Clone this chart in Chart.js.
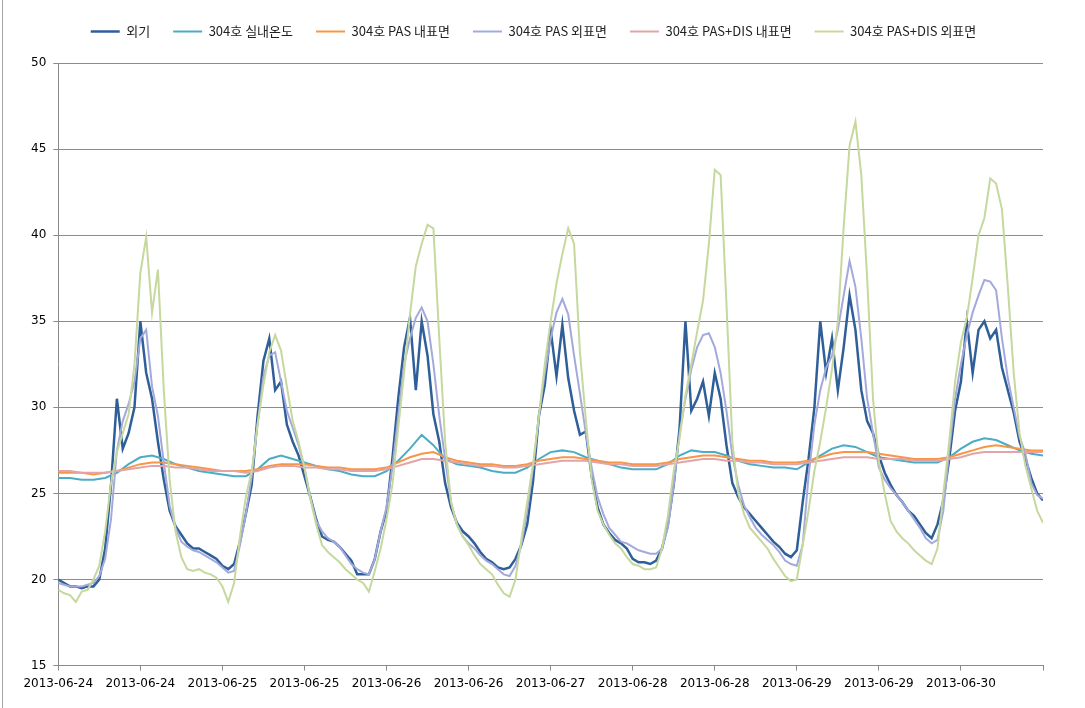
<!DOCTYPE html>
<html lang="ko">
<head>
<meta charset="UTF-8">
<title>304호 표면온도</title>
<script src="https://cdn.jsdelivr.net/npm/chart.js"></script>
<style>
    html, body { margin: 0; padding: 0; background: #fff; }
    .wrap { position: relative; width: 1085px; height: 708px; }
    .edge { position: absolute; left: 2px; top: 0; width: 1px; height: 708px; background: #a6a6a6; }
</style>
</head>
<body>
<div class="wrap">
    <canvas id="chart" width="1085" height="708"></canvas>
    <div class="edge"></div>
</div>
<script>
// x축 눈금: 14시간 간격
const dateLabels = ['2013-06-24', '2013-06-24', '2013-06-25', '2013-06-25', '2013-06-26', '2013-06-26',
    '2013-06-27', '2013-06-28', '2013-06-28', '2013-06-29', '2013-06-29', '2013-06-30', ''];
const seriesNames = ['외기', '304호 실내온도', '304호 PAS 내표면', '304호 PAS 외표면', '304호 PAS+DIS 내표면', '304호 PAS+DIS 외표면'];
const seriesColors = ['#2f5f98', '#4bacc6', '#f79646', '#a3aadb', '#e2a4a6', '#c6d89e'];

// 1시간 간격 (0h ~ 168h)
const outdoor = [
    20.0, 19.8, 19.6, 19.6, 19.5, 19.6, 19.6, 20.0, 21.8, 25.5,
    30.5, 27.6, 28.5, 30.0, 35.0, 32.0, 30.5, 28.0, 25.8, 24.0,
    23.1, 22.6, 22.1, 21.8, 21.8, 21.6, 21.4, 21.2, 20.8, 20.6,
    20.9, 22.2, 23.8, 25.5, 29.5, 32.7, 34.0, 31.0, 31.5, 29.0,
    28.0, 27.2, 26.0, 24.8, 23.5, 22.5, 22.3, 22.2, 21.9, 21.5,
    21.1, 20.3, 20.3, 20.3, 21.2, 22.8, 24.0, 27.0, 30.5, 33.5,
    35.2, 31.0, 35.0, 33.0, 29.6, 28.0, 25.6, 24.2, 23.3, 22.8,
    22.5, 22.1, 21.6, 21.2, 21.0, 20.7, 20.6, 20.7, 21.2, 22.0,
    23.2, 25.7, 29.5, 31.3, 34.5, 31.8, 34.8, 31.7, 29.8, 28.4,
    28.6, 26.0, 24.2, 23.2, 22.7, 22.3, 22.1, 21.8, 21.2, 21.0,
    21.0, 20.9, 21.1, 21.8, 23.2, 25.5, 28.8, 35.0, 29.8, 30.5,
    31.5, 29.5, 32.0, 30.5, 27.8, 25.6, 24.8, 24.2, 23.8, 23.4,
    23.0, 22.6, 22.2, 21.9, 21.5, 21.3, 21.7, 24.5, 27.0, 30.0,
    35.0, 32.0, 34.0, 31.0, 33.5, 36.5, 34.5, 31.0, 29.2, 28.5,
    27.2, 26.2, 25.5, 24.9, 24.5, 24.0, 23.7, 23.2, 22.7, 22.4,
    23.2, 24.6, 27.0, 29.8, 31.5, 35.0, 32.0, 34.5, 35.0, 34.0,
    34.5, 32.3, 31.0, 29.7, 28.0, 27.0, 25.9, 25.0, 24.6
];
const pasOuter = [
    19.8, 19.7, 19.6, 19.6, 19.6, 19.7, 19.8, 20.2, 21.2, 23.5,
    27.5, 29.2, 30.2, 31.5, 34.0, 34.5, 31.2, 29.5, 26.8, 24.3,
    23.0, 22.2, 21.9, 21.7, 21.6, 21.4, 21.2, 21.0, 20.7, 20.4,
    20.5, 22.0, 23.8, 26.0, 29.0, 31.8, 33.0, 33.2, 31.5, 29.8,
    28.8, 27.8, 26.5, 24.8, 23.4, 22.8, 22.4, 22.2, 21.9, 21.4,
    20.9, 20.6, 20.4, 20.3, 21.2, 22.8, 24.2, 26.5, 29.5, 32.5,
    34.0, 35.2, 35.8, 35.0, 32.5, 29.5, 27.0, 24.5, 23.2, 22.5,
    22.1, 21.8, 21.4, 21.1, 20.9, 20.6, 20.3, 20.2, 20.8, 22.0,
    24.0, 26.5, 29.5, 32.0, 34.0, 35.5, 36.3, 35.4, 33.0, 30.8,
    28.5, 26.5, 24.8, 23.8, 23.0, 22.6, 22.2, 22.1, 21.9, 21.7,
    21.6, 21.5, 21.5, 21.8, 23.0, 25.5, 28.5, 30.5, 32.2, 33.5,
    34.2, 34.3, 33.5, 32.0, 29.8, 27.2, 25.5, 24.3, 23.6, 23.0,
    22.6, 22.3, 22.0, 21.6, 21.1, 20.9, 20.8, 22.0, 26.0, 29.0,
    31.0, 32.3, 33.0, 34.5, 36.5, 38.5, 37.0, 34.0, 30.5, 28.5,
    26.5, 25.8, 25.3, 24.9, 24.5, 24.0, 23.5, 23.0, 22.4, 22.1,
    22.3, 24.0, 27.5, 30.5, 32.5, 34.2, 35.5, 36.5, 37.4, 37.3,
    36.8, 34.0, 31.7, 30.0, 28.3, 27.3, 25.6, 24.9, 24.7
];
const disOuter = [
    19.4, 19.2, 19.1, 18.7, 19.3, 19.4, 20.0, 20.8, 22.8, 25.6,
    27.4, 28.5, 29.6, 32.5, 37.8, 39.9, 35.5, 38.0, 31.0, 25.8,
    22.8, 21.3, 20.6, 20.5, 20.6, 20.4, 20.3, 20.1, 19.6, 18.7,
    19.8, 22.5, 24.8, 26.3, 29.0, 31.3, 33.2, 34.2, 33.3, 31.2,
    29.2, 28.0, 26.5, 24.7, 23.2, 22.0, 21.6, 21.3, 21.0, 20.6,
    20.3, 20.0, 19.8, 19.3, 20.5, 21.8, 23.5, 25.5, 28.8, 32.0,
    35.4, 38.2, 39.5, 40.6, 40.4, 34.0, 28.0, 24.5, 23.2, 22.5,
    22.0, 21.4, 20.9, 20.6, 20.3, 19.7, 19.2, 19.0, 20.0, 22.3,
    24.5, 26.7, 29.5, 32.5, 35.0, 37.2, 38.9, 40.4, 39.5, 33.2,
    29.3, 25.8, 24.0, 23.2, 22.6, 22.1, 21.8, 21.3, 20.9, 20.8,
    20.6, 20.6, 20.7, 21.8, 23.7, 26.3, 28.2, 30.7, 32.5, 34.4,
    36.2, 39.5, 43.8, 43.5, 36.0, 28.0, 25.0, 23.8, 23.0, 22.6,
    22.2, 21.8, 21.2, 20.7, 20.2, 19.9, 20.0, 22.0, 24.0, 26.3,
    28.0, 30.0, 32.2, 35.0, 40.5, 45.2, 46.6, 43.5, 37.5, 30.5,
    26.8, 25.0, 23.4, 22.8, 22.4, 22.1, 21.7, 21.4, 21.1, 20.9,
    21.8, 25.0, 28.0, 31.5, 33.8, 35.2, 37.5, 40.0, 41.0, 43.3,
    43.0, 41.5, 37.0, 32.0, 28.5, 26.6, 25.3, 24.0, 23.3
];

// 2시간 간격 (0h ~ 168h)
const indoor = [
    25.9, 25.9, 25.8, 25.8, 25.9, 26.2, 26.7, 27.1, 27.2, 27.0,
    26.7, 26.5, 26.3, 26.2, 26.1, 26.0, 26.0, 26.4, 27.0, 27.2,
    27.0, 26.8, 26.6, 26.4, 26.3, 26.1, 26.0, 26.0, 26.3, 26.9,
    27.6, 28.4, 27.8, 27.0, 26.7, 26.6, 26.5, 26.3, 26.2, 26.2,
    26.5, 27.0, 27.4, 27.5, 27.4, 27.1, 26.9, 26.7, 26.5, 26.4,
    26.4, 26.4, 26.7, 27.2, 27.5, 27.4, 27.4, 27.2, 26.9, 26.7,
    26.6, 26.5, 26.5, 26.4, 26.8, 27.2, 27.6, 27.8, 27.7, 27.4,
    27.1, 27.0, 26.9, 26.8, 26.8, 26.8, 27.1, 27.6, 28.0, 28.2,
    28.1, 27.8, 27.5, 27.3, 27.2
];
const pasInner = [
    26.2, 26.2, 26.2, 26.1, 26.2, 26.3, 26.5, 26.7, 26.8, 26.8,
    26.7, 26.6, 26.5, 26.4, 26.3, 26.3, 26.3, 26.4, 26.6, 26.7,
    26.7, 26.7, 26.6, 26.5, 26.5, 26.4, 26.4, 26.4, 26.5, 26.8,
    27.1, 27.3, 27.4, 27.1, 26.9, 26.8, 26.7, 26.7, 26.6, 26.6,
    26.7, 26.9, 27.0, 27.1, 27.1, 27.0, 26.9, 26.8, 26.8, 26.7,
    26.7, 26.7, 26.8, 27.0, 27.1, 27.2, 27.2, 27.1, 27.0, 26.9,
    26.9, 26.8, 26.8, 26.8, 26.9, 27.1, 27.3, 27.4, 27.4, 27.4,
    27.3, 27.2, 27.1, 27.0, 27.0, 27.0, 27.1, 27.3, 27.5, 27.7,
    27.8, 27.7, 27.6, 27.5, 27.5
];
const disInner = [
    26.3, 26.3, 26.2, 26.2, 26.2, 26.3, 26.4, 26.5, 26.6, 26.6,
    26.5, 26.5, 26.4, 26.3, 26.3, 26.3, 26.2, 26.3, 26.5, 26.6,
    26.6, 26.5, 26.5, 26.4, 26.4, 26.3, 26.3, 26.3, 26.4, 26.6,
    26.8, 27.0, 27.0, 26.9, 26.8, 26.7, 26.6, 26.6, 26.5, 26.5,
    26.6, 26.7, 26.8, 26.9, 26.9, 26.9, 26.8, 26.7, 26.7, 26.6,
    26.6, 26.6, 26.7, 26.8, 26.9, 27.0, 27.0, 26.9, 26.9, 26.8,
    26.8, 26.7, 26.7, 26.7, 26.8, 26.9, 27.0, 27.1, 27.1, 27.1,
    27.0, 27.0, 27.0, 26.9, 26.9, 26.9, 27.0, 27.1, 27.3, 27.4,
    27.4, 27.4, 27.4, 27.4, 27.4
];

function toPoints(values, step) {
    return values.map((v, i) => ({ x: i * step, y: v }));
}

const seriesData = [
    toPoints(outdoor, 1),
    toPoints(indoor, 2),
    toPoints(pasInner, 2),
    toPoints(pasOuter, 1),
    toPoints(disInner, 2),
    toPoints(disOuter, 1)
];

const datasets = seriesNames.map((name, i) => ({
    label: name,
    data: seriesData[i],
    borderColor: seriesColors[i],
    backgroundColor: seriesColors[i],
    borderWidth: i === 0 ? 2.5 : 2,
    pointRadius: 0,
    tension: 0,
    order: seriesNames.length - i   // 엑셀처럼 뒤 계열이 위에 그려지도록
}));

const gridColor = '#8c8c8c';

// 범례 아래 여백
const legendGap = {
    id: 'legendGap',
    beforeInit(chart) {
        const fit = chart.legend.fit;
        chart.legend.fit = function () {
            fit.call(this);
            this.height += 15;
        };
    }
};

new Chart(document.getElementById('chart'), {
    type: 'line',
    data: { datasets: datasets },
    plugins: [legendGap],
    options: {
        responsive: false,
        animation: false,
        layout: { padding: { left: 24, right: 42, top: 2, bottom: 11 } },
        plugins: {
            legend: {
                position: 'top',
                labels: {
                    usePointStyle: true,
                    pointStyle: 'line',
                    pointStyleWidth: 29,
                    padding: 23,
                    color: '#222',
                    font: { family: "'Noto Sans CJK KR', 'Noto Sans'", size: 13 },
                    sort: (a, b) => a.datasetIndex - b.datasetIndex
                }
            },
            tooltip: { enabled: false }
        },
        scales: {
            x: {
                type: 'linear',
                min: 0,
                max: 168,
                border: { color: gridColor, width: 1 },
                grid: { display: true, drawOnChartArea: false, color: gridColor, tickLength: 5 },
                ticks: {
                    stepSize: 14,
                    autoSkip: false,
                    maxRotation: 0,
                    padding: 6,
                    color: '#000',
                    font: { family: "'DejaVu Sans'", size: 12 },
                    callback: (value) => dateLabels[Math.round(value / 14)]
                }
            },
            y: {
                min: 15,
                max: 50,
                border: { color: gridColor, width: 1 },
                grid: { color: gridColor, tickLength: 5 },
                ticks: {
                    stepSize: 5,
                    padding: 7,
                    color: '#000',
                    font: { family: "'DejaVu Sans'", size: 12 }
                }
            }
        }
    }
});
</script>
</body>
</html>
